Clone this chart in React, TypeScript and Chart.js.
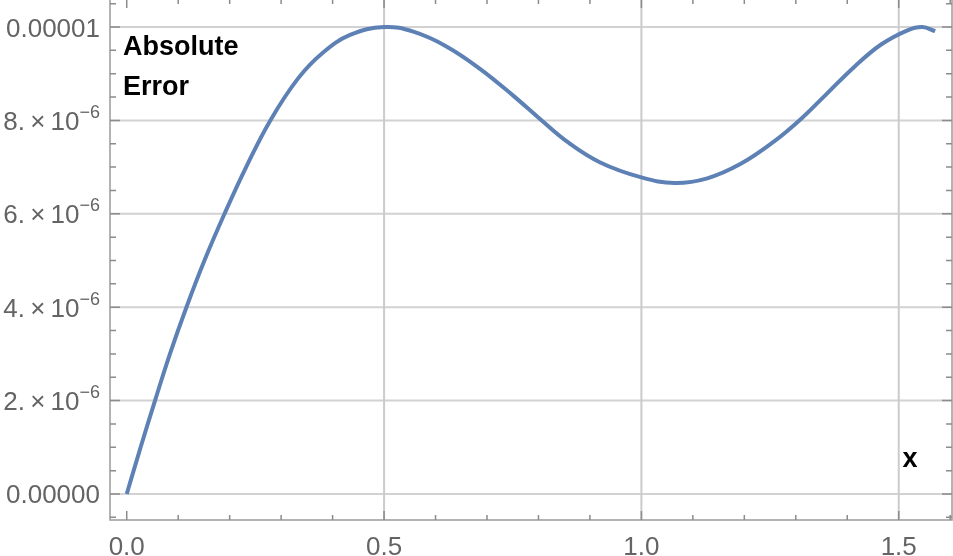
import React, { useEffect, useRef } from "react";
import { Chart, registerables } from "chart.js";

Chart.register(...registerables);

// ---- data ----
const xValues = [
  0.0, 0.027, 0.055, 0.084, 0.116, 0.151, 0.19, 0.232, 0.279, 0.333, 0.381, 0.434, 0.5,
  0.557, 0.622, 0.687, 0.752, 0.803, 0.855, 0.92, 1.0, 1.065, 1.128, 1.193, 1.258, 1.31,
  1.361, 1.413, 1.465, 1.517, 1.546, 1.5708,
];
const errorValues = [
  0.0, 1.0e-6, 2.0e-6, 3.0e-6, 4.0e-6, 5.0e-6, 6.0e-6, 7.0e-6, 8.0e-6, 8.9e-6, 9.45e-6, 9.83e-6,
  1.0e-5, 9.9e-6, 9.58e-6, 9.1e-6, 8.52e-6, 8.03e-6, 7.55e-6, 7.1e-6, 6.78e-6, 6.66e-6, 6.76e-6,
  7.07e-6, 7.55e-6, 8.03e-6, 8.58e-6, 9.14e-6, 9.62e-6, 9.93e-6, 1.0e-5, 9.91e-6,
];

const xMajorTicks = [0, 0.5, 1.0, 1.5];
const xTickLabels = ["0.0", "0.5", "1.0", "1.5"];
const xMinorTicks = [0.1, 0.2, 0.3, 0.4, 0.6, 0.7, 0.8, 0.9, 1.1, 1.2, 1.3, 1.4, 1.6];
const xGridLines = [0.5, 1.0, 1.5];

const yMajorTicks = [0, 2e-6, 4e-6, 6e-6, 8e-6, 1e-5];
const yTickLabels = [
  "0.00000",
  "2.\u2009×\u200910^−6",
  "4.\u2009×\u200910^−6",
  "6.\u2009×\u200910^−6",
  "8.\u2009×\u200910^−6",
  "0.00001",
];
const yMinorTicks = [
  -5e-7, 5e-7, 1e-6, 1.5e-6, 2.5e-6, 3e-6, 3.5e-6, 4.5e-6, 5e-6, 5.5e-6, 6.5e-6, 7e-6, 7.5e-6,
  8.5e-6, 9e-6, 9.5e-6, 1.05e-5,
];
const yGridLines = [0, 2e-6, 4e-6, 6e-6, 8e-6, 1e-5];

const yAxisLabel = ["Absolute", "Error"];
const xAxisLabel = "x";

const FONT = "'Liberation Sans', Arial, Helvetica, sans-serif";

const framePlugin = {
  id: "mmaFrame",
  beforeDatasetsDraw(chart: any) {
    const { ctx, chartArea: a, scales } = chart;
    const xs = scales.x;
    const ys = scales.y;
    ctx.save();
    ctx.lineWidth = 2;
    ctx.strokeStyle = "#d2d2d2";
    for (const v of yGridLines) {
      const y = ys.getPixelForValue(v);
      ctx.beginPath();
      ctx.moveTo(a.left, y);
      ctx.lineTo(a.right, y);
      ctx.stroke();
    }
    ctx.strokeStyle = "#cbcbcb";
    for (const v of xGridLines) {
      const x = xs.getPixelForValue(v);
      ctx.beginPath();
      ctx.moveTo(x, a.top);
      ctx.lineTo(x, a.bottom);
      ctx.stroke();
    }
    ctx.restore();
  },
  afterDraw(chart: any) {
    const { ctx, chartArea: a, scales } = chart;
    const xs = scales.x;
    const ys = scales.y;
    ctx.save();
    // frame
    ctx.strokeStyle = "#9a9a9a";
    ctx.lineWidth = 1.5;
    ctx.strokeRect(a.left, a.top, a.right - a.left, a.bottom - a.top);
    // ticks
    ctx.strokeStyle = "#8c8c8c";
    ctx.lineWidth = 1.5;
    const xt = (v: number, len: number) => {
      const x = xs.getPixelForValue(v);
      ctx.beginPath();
      ctx.moveTo(x, a.bottom);
      ctx.lineTo(x, a.bottom - len);
      ctx.moveTo(x, a.top);
      ctx.lineTo(x, a.top + len);
      ctx.stroke();
    };
    const yt = (v: number, len: number) => {
      const y = ys.getPixelForValue(v);
      ctx.beginPath();
      ctx.moveTo(a.left, y);
      ctx.lineTo(a.left + len, y);
      ctx.moveTo(a.right, y);
      ctx.lineTo(a.right - len, y);
      ctx.stroke();
    };
    xMajorTicks.forEach((v) => xt(v, 9));
    xMinorTicks.forEach((v) => xt(v, 5));
    yMajorTicks.forEach((v) => yt(v, 10));
    yMinorTicks.forEach((v) => yt(v, 6));

    // x tick labels
    ctx.fillStyle = "#646464";
    ctx.font = `26px ${FONT}`;
    ctx.textAlign = "center";
    ctx.textBaseline = "alphabetic";
    xMajorTicks.forEach((v, i) => {
      ctx.fillText(xTickLabels[i], xs.getPixelForValue(v), a.bottom + 35);
    });

    // y tick labels
    const rightX = a.left - 10;
    yMajorTicks.forEach((v, i) => {
      const y = ys.getPixelForValue(v) + 9.5;
      const lbl = yTickLabels[i];
      ctx.textAlign = "right";
      if (lbl.includes("^")) {
        const [base, sup] = lbl.split("^");
        ctx.font = `18px ${FONT}`;
        const supW = ctx.measureText(sup).width;
        ctx.fillText(sup, rightX, y - 12);
        ctx.font = `26px ${FONT}`;
        ctx.fillText(base, rightX - supW, y);
      } else {
        ctx.font = `26px ${FONT}`;
        ctx.fillText(lbl, rightX, y);
      }
    });

    // axis labels (inside frame)
    ctx.fillStyle = "#000000";
    ctx.font = `bold 27px ${FONT}`;
    ctx.textAlign = "left";
    ctx.fillText(yAxisLabel[0], a.left + 13, a.top + 56);
    ctx.fillText(yAxisLabel[1], a.left + 13, a.top + 96);
    ctx.textAlign = "center";
    ctx.fillText(xAxisLabel, 910, a.top + 468);
    ctx.restore();
  },
};

export default function App() {
  const ref = useRef<HTMLCanvasElement | null>(null);
  useEffect(() => {
    if (!ref.current) return;
    const chart = new Chart(ref.current, {
      type: "line",
      data: {
        datasets: [
          {
            data: xValues.map((x, i) => ({ x, y: errorValues[i] })),
            borderColor: "#5E81B5",
            borderWidth: 4,
            pointRadius: 0,
            fill: false,
            tension: 0.4,
            borderCapStyle: "butt",
            borderJoinStyle: "round",
          },
        ],
      },
      options: {
        animation: false,
        responsive: false,
        devicePixelRatio: 1,
        layout: { padding: { top: 1, right: 1, left: 0, bottom: 0 } },
        plugins: { legend: { display: false }, tooltip: { enabled: false } },
        scales: {
          x: {
            type: "linear",
            min: -0.0325,
            max: 1.6035,
            grid: { display: false },
            border: { display: false },
            ticks: { display: false },
            afterFit: (s: any) => {
              s.height = 36;
            },
          },
          y: {
            type: "linear",
            min: -0.557e-6,
            max: 1.06e-5,
            grid: { display: false },
            border: { display: false },
            ticks: { display: false },
            afterFit: (s: any) => {
              s.width = 110;
            },
          },
        },
      },
      plugins: [framePlugin],
    } as any);
    return () => chart.destroy();
  }, []);
  return (
    <div style={{ position: "absolute", left: 0, top: -2, width: 953, height: 558 }}>
      <canvas ref={ref} width={953} height={558} style={{ display: "block" }} />
    </div>
  );
}
